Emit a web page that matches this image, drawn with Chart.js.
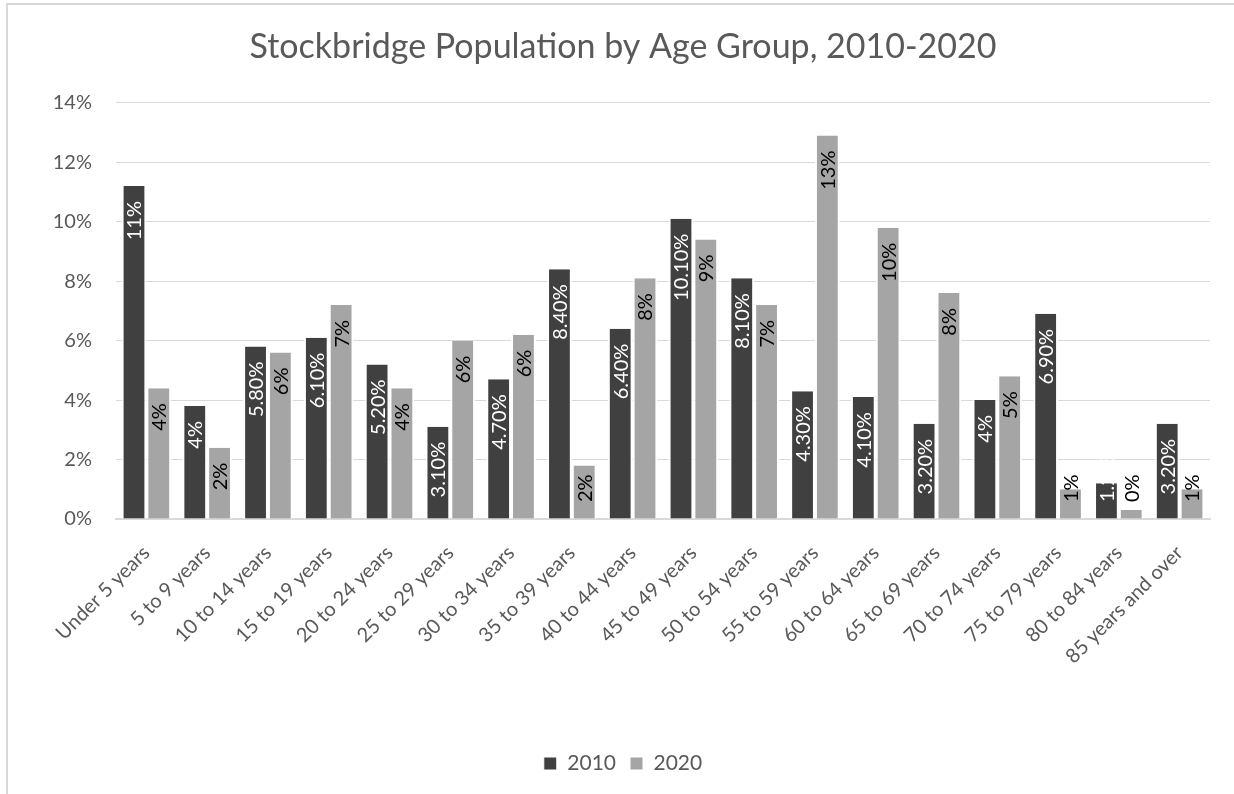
<!DOCTYPE html>
<html>
<head>
<meta charset="utf-8">
<title>Stockbridge Population by Age Group</title>
<script src="https://cdn.jsdelivr.net/npm/chart.js@4.4.1/dist/chart.umd.min.js"></script>
<style>
  html, body { margin: 0; padding: 0; background: #fff; }
  #wrap { position: relative; width: 1234px; height: 794px; overflow: hidden; }
  #frame { position: absolute; left: 6px; top: 3px; right: -10px; bottom: -10px;
           border-left: 2px solid #d9d9d9; border-top: 2px solid #d9d9d9; pointer-events: none; }
  canvas { position: absolute; left: 0; top: 0; }
</style>
</head>
<body>
<div id="wrap">
  <canvas id="ageChart" width="1234" height="794"></canvas>
  <div id="frame"></div>
</div>
<script>
// age groups on the x axis
const ageGroups = [
  'Under 5 years', '5 to 9 years', '10 to 14 years', '15 to 19 years',
  '20 to 24 years', '25 to 29 years', '30 to 34 years', '35 to 39 years',
  '40 to 44 years', '45 to 49 years', '50 to 54 years', '55 to 59 years',
  '60 to 64 years', '65 to 69 years', '70 to 74 years', '75 to 79 years',
  '80 to 84 years', '85 years and over'
];

// share of population, in percent
const pct2010 = [11.2, 3.8, 5.8, 6.1, 5.2, 3.1, 4.7, 8.4, 6.4, 10.1, 8.1, 4.3, 4.1, 3.2, 4.0, 6.9, 1.2, 3.2];
const pct2020 = [4.4, 2.4, 5.6, 7.2, 4.4, 6.0, 6.2, 1.8, 8.1, 9.4, 7.2, 12.9, 9.8, 7.6, 4.8, 1.0, 0.3, 1.0];

// data labels exactly as printed on the bars
const labels2010 = ['11%', '4%', '5.80%', '6.10%', '5.20%', '3.10%', '4.70%', '8.40%', '6.40%',
  '10.10%', '8.10%', '4.30%', '4.10%', '3.20%', '4%', '6.90%', '1.20%', '3.20%'];
const labels2020 = ['4%', '2%', '6%', '7%', '4%', '6%', '6%', '2%', '8%',
  '9%', '7%', '13%', '10%', '8%', '5%', '1%', '0%', '1%'];

const yTicks = [0, 2, 4, 6, 8, 10, 12, 14];

const FONT = 'Lato, "Open Sans", sans-serif';
const GREY_TEXT = '#595959';

// draws the rotated value labels inside the top of each bar
const barLabels = {
  id: 'barLabels',
  afterDatasetsDraw(chart) {
    const ctx = chart.ctx;
    const base = chart.scales.y.getPixelForValue(0);
    const texts = [labels2010, labels2020];
    const colors = ['#ffffff', '#000000'];
    ctx.save();
    ctx.font = '20px ' + FONT;
    ctx.textAlign = 'right';
    ctx.textBaseline = 'middle';
    chart.data.datasets.forEach((ds, i) => {
      const meta = chart.getDatasetMeta(i);
      meta.data.forEach((bar, j) => {
        const txt = texts[i][j];
        const w = ctx.measureText(txt).width;
        let top = bar.y + 15;
        if (top + w > base - 17) top = base - 17 - w;
        ctx.save();
        ctx.translate(bar.x, top);
        ctx.rotate(-Math.PI / 2);
        ctx.fillStyle = colors[i];
        ctx.fillText(txt, 0, 1);
        ctx.restore();
      });
    });
    ctx.restore();
  }
};

function initChart() {
  const ctx = document.getElementById('ageChart').getContext('2d');

  const data = {
    labels: ageGroups,
    datasets: [{
      label: '2010',
      data: pct2010,
      backgroundColor: '#404040',
      borderColor: '#ffffff',
      borderWidth: { left: 2, right: 2, top: 0, bottom: 0 },
      borderSkipped: 'start'
    }, {
      label: '2020',
      data: pct2020,
      backgroundColor: '#a5a5a5',
      borderColor: '#ffffff',
      borderWidth: { left: 2, right: 2, top: 0, bottom: 0 },
      borderSkipped: 'start'
    }]
  };

  const options = {
    responsive: false,
    animation: false,
    layout: { padding: { left: 36, right: 24, top: 0, bottom: 10 } },
    datasets: { bar: { categoryPercentage: 0.816, barPercentage: 1.0 } },
    scales: {
      x: {
        grid: { display: false },
        border: { display: true, color: '#d9d9d9', width: 2 },
        ticks: {
          color: GREY_TEXT,
          font: { family: FONT, size: 20 },
          maxRotation: 45,
          minRotation: 45,
          autoSkip: false,
          padding: 14
        },
        afterFit(scale) { scale.height = 220; }
      },
      y: {
        min: 0,
        max: 14,
        afterBuildTicks(scale) { scale.ticks = yTicks.map(v => ({ value: v })); },
        grid: { color: '#d9d9d9', lineWidth: 1, drawTicks: false },
        border: { display: false },
        ticks: {
          color: GREY_TEXT,
          font: { family: FONT, size: 20 },
          padding: 24,
          callback: v => v + '%'
        },
        afterFit(scale) { scale.width = 80; }
      }
    },
    plugins: {
      title: {
        display: true,
        text: 'Stockbridge Population by Age Group, 2010-2020',
        color: GREY_TEXT,
        font: { family: FONT, size: 34, weight: 'normal' },
        padding: { top: 27, bottom: 35 }
      },
      legend: {
        position: 'bottom',
        labels: {
          color: GREY_TEXT,
          font: { family: FONT, size: 21 },
          boxWidth: 13,
          boxHeight: 13,
          padding: 14
        }
      },
      tooltip: { enabled: false }
    }
  };

  new Chart(ctx, {
    type: 'bar',
    data: data,
    options: options,
    plugins: [barLabels]
  });
}

window.addEventListener('DOMContentLoaded', initChart);
</script>
</body>
</html>
